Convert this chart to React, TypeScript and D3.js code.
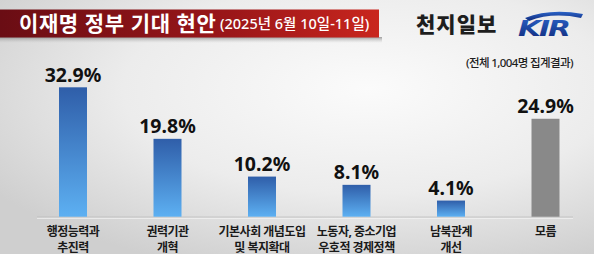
import React from "react";
import * as d3 from "d3";

const categories = [
  ["행정능력과", "추진력"],
  ["권력기관", "개혁"],
  ["기본사회 개념도입", "및 복지확대"],
  ["노동자, 중소기업", "우호적 경제정책"],
  ["남북관계", "개선"],
  ["모름"],
];
const values = [32.9, 19.8, 10.2, 8.1, 4.1, 24.9];
const isUnknown = [false, false, false, false, false, true];
const titleText = "이재명 정부 기대 현안";
const dateText = "(2025년 6월 10일-11일)";
const sourceText = "천지일보";
const sampleText = "(전체 1,004명 집계결과)";

const W = 594;
const H = 254;
const KFONT = "'Noto Sans', 'Noto Sans CJK KR', sans-serif";

export default function App() {
  const keys = categories.map((c) => c.join(" "));
  const x = d3.scalePoint<string>().domain(keys).range([73, 545.5]);
  const baseY = 216.7;
  const y = d3.scaleLinear().domain([0, 35]).range([baseY, baseY - 35 * 3.933]);
  const barW = 28;

  return (
    <svg width={W} height={H} style={{ display: "block", position: "absolute", left: 0, top: 0 }}>
      <defs>
        <radialGradient id="bg" cx="62%" cy="35%" r="75%">
          <stop offset="0%" stopColor="#fbfbfb" />
          <stop offset="55%" stopColor="#ececec" />
          <stop offset="100%" stopColor="#cfcfcf" />
        </radialGradient>
        <linearGradient id="titleGrad" x1="0" x2="1" y1="0" y2="0">
          <stop offset="0%" stopColor="#6a0d14" />
          <stop offset="60%" stopColor="#9a1619" />
          <stop offset="100%" stopColor="#c9261e" />
        </linearGradient>
        <linearGradient id="titleShadow" x1="0" x2="0" y1="0" y2="1">
          <stop offset="0%" stopColor="#7a7a7a" stopOpacity={0.7} />
          <stop offset="100%" stopColor="#bdbdbd" stopOpacity={0} />
        </linearGradient>
        <linearGradient id="barGrad" x1="0" x2="0" y1="0" y2="1">
          <stop offset="0%" stopColor="#2f5ea9" />
          <stop offset="100%" stopColor="#5db0f2" />
        </linearGradient>
        <linearGradient id="kirGrad" x1="0" x2="0" y1="0" y2="1">
          <stop offset="0%" stopColor="#2a63c8" />
          <stop offset="100%" stopColor="#10297a" />
        </linearGradient>
      </defs>

      <rect x={0} y={0} width={W} height={H} fill="url(#bg)" />

      {/* title banner */}
      <rect x={0} y={37} width={382} height={6} fill="url(#titleShadow)" />
      <rect x={0} y={9.5} width={379} height={28} fill="url(#titleGrad)" />
      <text x={19} y={31} fill="#ffffff" fontFamily={KFONT} fontWeight={700} fontSize={21} letterSpacing={0.6}>
        {titleText}
      </text>
      <text x={220} y={29} fill="#ffffff" fontFamily={KFONT} fontWeight={500} fontSize={14.5} letterSpacing={0}>
        {dateText}
      </text>

      {/* source */}
      <text x={416} y={32} fill="#1e1e1e" fontFamily={KFONT} fontWeight={900} fontSize={21} letterSpacing={1}>
        {sourceText}
      </text>
      <g>
        <path d="M525,18 Q550,8 583,14 L581,18 Q552,12 529,21 Z" fill="url(#kirGrad)" />
        <text
          transform="translate(518,36) scale(1.35,1)"
          fill="url(#kirGrad)"
          fontFamily="'DejaVu Sans', sans-serif"
          fontWeight={700}
          fontStyle="italic"
          fontSize={22}
          letterSpacing={-1.5}
        >
          KIR
        </text>
      </g>
      <text x={573} y={67} textAnchor="end" fill="#1e1e1e" fontFamily={KFONT} fontWeight={500} fontSize={11.5} letterSpacing={-0.6}>
        {sampleText}
      </text>

      {/* axis */}
      <line x1={37} x2={573} y1={baseY + 0.5} y2={baseY + 0.5} stroke="#b5b5b5" strokeWidth={1} />
      <line x1={37} x2={573} y1={baseY + 1.5} y2={baseY + 1.5} stroke="#f4f4f4" strokeWidth={1} />

      {/* bars */}
      {values.map((v, i) => {
        const cx = x(keys[i])!;
        return (
          <g key={keys[i]}>
            <rect
              x={cx - barW / 2}
              y={y(v)}
              width={barW}
              height={baseY - y(v)}
              fill={isUnknown[i] ? "#898989" : "url(#barGrad)"}
            />
            <text
              x={cx}
              y={y(v) - 5.5}
              textAnchor="middle"
              fill="#111"
              fontFamily="'Noto Sans', sans-serif"
              fontWeight={700}
              fontSize={19.5}
            >
              {d3.format(".1f")(v)}%
            </text>
            {categories[i].map((line, j) => (
              <text
                key={j}
                x={cx}
                y={236 + j * 15.5}
                textAnchor="middle"
                fill="#1a1a1a"
                fontFamily={KFONT}
                fontWeight={700}
                fontSize={12}
                letterSpacing={-0.5}
              >
                {line}
              </text>
            ))}
          </g>
        );
      })}
    </svg>
  );
}
